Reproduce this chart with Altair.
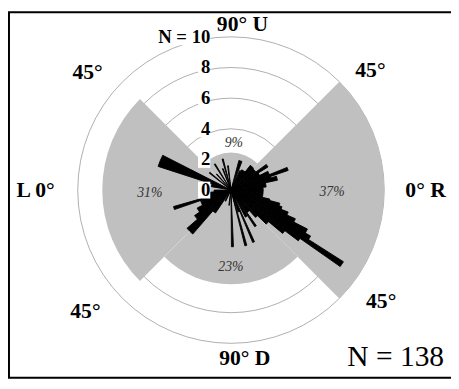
import math
import altair as alt
import pandas as pd

# ---- layout (pixels) ----
W, H = 451, 374
CX, CY = 227, 182
U = 15.6  # pixels per count unit

# ---- data ----
ring_values = [2, 4, 6, 8, 10]
ring_label_text = ["0", "2", "4", "6", "8", "N = 10"]
ring_label_value = [0, 2, 4, 6, 8, 10]

sector_start = [-45, 45, 135, 225]
sector_end = [45, 135, 225, 315]
sector_radius = [10.0, 2.45, 8.4, 6.15]
pct_text = ["37%", "9%", "31%", "23%"]
pct_x = [6.6, 0.19, -5.3, 0.0]
pct_y = [-0.13, 3.08, -0.2, -5.0]

# bars: math angle (0 = right, counter-clockwise), count
bar_start = [0, 5, 12, 17, 19, 22, 27, 32, 36, 44, 52, 62, 69,
             96, 104, 110, 121, 131, 140, 153, 162,
             180, 186, 196, 199, 208, 215, 221, 229, 241, 262,
             -89.5, -76, -72, -67.5, -62, -57, -54, -48, -44, -40, -37,
             -35, -32.5, -30, -27, -24, -21, -18, -15, -13, -6]
bar_end = [5, 12, 17, 19, 22, 27, 32, 36, 44, 52, 62, 66, 75,
           98, 106, 112, 123, 133, 142, 162, 170,
           186, 196, 199, 208, 215, 221, 229, 236, 245, 264,
           -87.5, -74, -68, -65.5, -58, -54.5, -48, -44, -40, -37, -35,
           -32.5, -30, -27, -24, -21, -18, -15, -13, -6, 0]
bar_count = [2.1, 2.3, 3.1, 2.7, 3.95, 2.7, 2.1, 2.85, 2.0, 2.05, 1.5, 1.4, 2.0,
             1.6, 2.1, 1.5, 2.0, 1.4, 1.8, 5.0, 1.3,
             1.1, 2.0, 3.9, 2.1, 2.5, 2.9, 3.8, 1.8, 0.8, 1.0,
             3.7, 3.75, 1.5, 3.7, 2.0, 2.85, 1.8, 2.4, 3.2, 4.4, 5.5,
             8.7, 6.0, 5.6, 4.6, 4.0, 3.5, 3.3, 2.6, 2.1, 2.1]

dir_text = ["90° U", "45°", "45°", "L 0°", "0° R", "45°", "45°", "90° D"]
dir_x = [0.75, -9.36, 9.1, -12.75, 12.7, -9.5, 9.8, 0.9]
dir_y = [10.83, 7.7, 7.82, 0.0, 0.0, -7.9, -7.25, -10.95]

n_text = ["N = 138"]
n_x = [10.75]
n_y = [-10.9]

# ---- tables ----
ring_df = pd.DataFrame({"r": ring_values})
sector_df = pd.DataFrame({"start": sector_start, "end": sector_end, "r": sector_radius})
pct_df = pd.DataFrame({"t": pct_text, "x": pct_x, "y": pct_y})
bar_df = pd.DataFrame({"start": bar_start, "end": bar_end, "r": bar_count})
rl_df = pd.DataFrame({"t": ring_label_text, "v": ring_label_value})
rl_df["x"] = -1.35
rl_df["x0"] = [-2.15, -2.15, -2.15, -2.15, -2.15, -4.95]
rl_df["x1"] = -1.35
rl_df["y0"] = rl_df["v"] - 0.55
rl_df["y1"] = rl_df["v"] + 0.55
dir_df = pd.DataFrame({"t": dir_text, "x": dir_x, "y": dir_y})
n_df = pd.DataFrame({"t": n_text, "x": n_x, "y": n_y})

theta_scale = alt.Scale(domain=[0, 360], range=[0, 2 * math.pi], zero=False, nice=False)
r_scale = alt.Scale(type="linear", domain=[0, 10], range=[0, 10 * U], zero=True, nice=False)
x_scale = alt.Scale(domain=[-CX / U, (W - CX) / U], range=[0, W], zero=False, nice=False)
y_scale = alt.Scale(domain=[(CY - H) / U, CY / U], range=[H, 0], zero=False, nice=False)

FONT = "Liberation Serif"

rings = alt.Chart(ring_df).mark_arc(
    fillOpacity=0, stroke="#9a9a9a", strokeWidth=0.8, theta=0, theta2=6.3
).encode(
    radius=alt.Radius("r:Q", scale=r_scale, stack=False),
    x=alt.value(CX), y=alt.value(CY),
)

def wedges(df, color, sw):
    return alt.Chart(df).transform_calculate(
        t1="90 - datum.end", t2="90 - datum.start"
    ).mark_arc(color=color, stroke=color, strokeWidth=sw).encode(
        theta=alt.Theta("t1:Q", scale=theta_scale, stack=False),
        theta2="t2:Q",
        radius=alt.Radius("r:Q", scale=r_scale, stack=False),
        x=alt.value(CX), y=alt.value(CY),
    )

sectors = wedges(sector_df, "#c0c0c0", 0)
bars = wedges(bar_df, "#000000", 0.9)

pct = alt.Chart(pct_df).mark_text(
    font=FONT, fontSize=14, fontStyle="italic", color="#333333"
).encode(
    x=alt.X("x:Q", scale=x_scale, axis=None),
    y=alt.Y("y:Q", scale=y_scale, axis=None),
    text="t:N",
)

boxes = alt.Chart(rl_df).mark_rect(color="white").encode(
    x=alt.X("x0:Q", scale=x_scale, axis=None), x2="x1:Q",
    y=alt.Y("y0:Q", scale=y_scale, axis=None), y2="y1:Q",
)

ring_labels = alt.Chart(rl_df).mark_text(
    font=FONT, fontSize=19, fontWeight="bold", align="right", baseline="middle", color="black"
).encode(
    x=alt.X("x:Q", scale=x_scale, axis=None),
    y=alt.Y("v:Q", scale=y_scale, axis=None),
    text="t:N",
)

dir_labels = alt.Chart(dir_df).mark_text(
    font=FONT, fontSize=22, fontWeight="bold", baseline="middle", color="black"
).encode(
    x=alt.X("x:Q", scale=x_scale, axis=None),
    y=alt.Y("y:Q", scale=y_scale, axis=None),
    text="t:N",
)

n_label = alt.Chart(n_df).mark_text(
    font=FONT, fontSize=30, baseline="middle", color="black"
).encode(
    x=alt.X("x:Q", scale=x_scale, axis=None),
    y=alt.Y("y:Q", scale=y_scale, axis=None),
    text="t:N",
)

frame = alt.Chart(pd.DataFrame({"a": [0]})).mark_rect(
    fillOpacity=0, stroke="black", strokeWidth=2
).encode(
    x=alt.value(1), x2=alt.value(W + 20), y=alt.value(1), y2=alt.value(H - 1),
)

chart = alt.layer(
    rings, sectors, bars, pct, boxes, ring_labels, dir_labels, n_label, frame
).properties(
    width=W, height=H, autosize=alt.AutoSizeParams(type="none"), padding=0,
    background="white",
).configure_view(strokeWidth=0)

chart.save("out.html", embed_options={"renderer": "svg", "actions": False})
